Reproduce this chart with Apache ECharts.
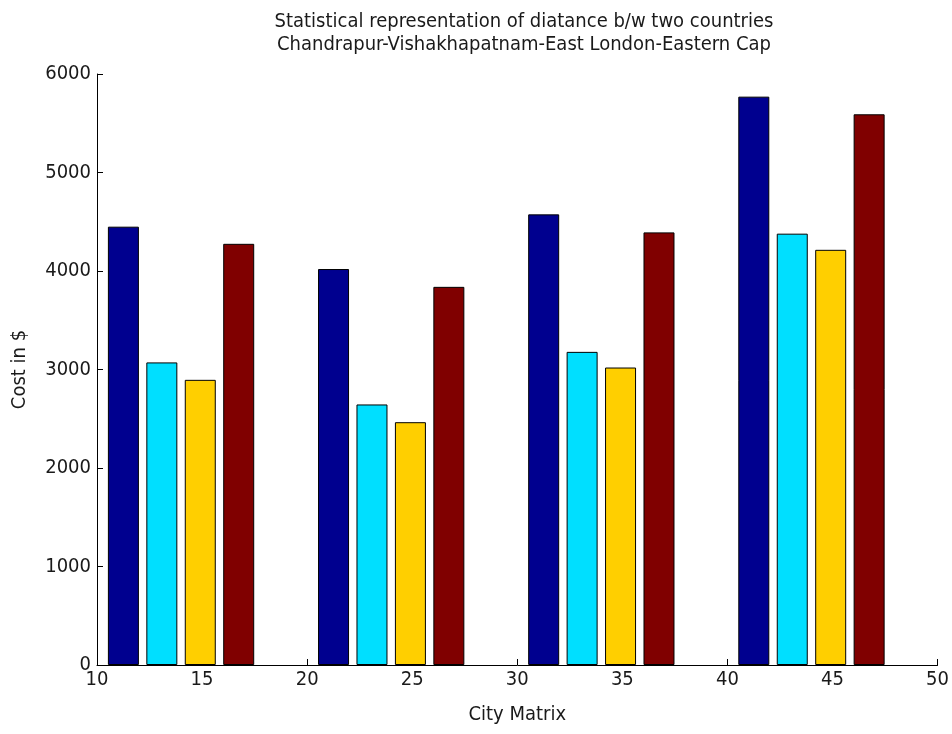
<!DOCTYPE html>
<html>
<head>
<meta charset="utf-8">
<script src="https://cdn.jsdelivr.net/npm/echarts@6/dist/echarts.min.js"></script>
<style>
html,body{margin:0;padding:0;background:#fff;}
#chart{width:952px;height:734px;}
</style>
</head>
<body>
<div id="chart"></div>
<script>
// Group positions on the x axis (City Matrix)
const groupX = [14, 24, 34, 44];
// Series values (Cost in $)
const series1 = [4450, 4020, 4575, 5770];
const series2 = [3072, 2645, 3179, 4379];
const series3 = [2895, 2465, 3020, 4215];
const series4 = [4276, 3839, 4392, 5591];
const seriesColors = ['#00008F', '#00DFFF', '#FFCF00', '#800000'];
const xTicks = [10, 15, 20, 25, 30, 35, 40, 45, 50];
const yTicks = [0, 1000, 2000, 3000, 4000, 5000, 6000];

const FONT = '"DejaVu Sans Condensed", "Liberation Sans Narrow", "Liberation Sans", sans-serif';
const TXT = '#1a1a1a';

const allSeries = [series1, series2, series3, series4];
const chart = echarts.init(document.getElementById('chart'), null, {renderer: 'canvas'});
chart.setOption({
  backgroundColor: '#ffffff',
  animation: false,
  title: {
    text: 'Statistical representation of diatance b/w two countries\nChandrapur-Vishakhapatnam-East London-Eastern Cap',
    left: 519,
    textAlign: 'center',
    top: 5,
    textStyle: {fontFamily: FONT, fontSize: 20, fontWeight: 'normal', color: TXT, lineHeight: 23}
  },
  grid: {left: 97, right: 10, top: 74, bottom: 69, containLabel: false},
  xAxis: {
    type: 'value',
    min: xTicks[0], max: xTicks[xTicks.length - 1], interval: 5,
    name: 'City Matrix',
    nameLocation: 'middle',
    nameGap: 40,
    nameTextStyle: {fontFamily: FONT, fontSize: 20, color: TXT},
    axisLine: {show: true, lineStyle: {color: '#000', width: 1}},
    axisTick: {show: true, inside: true, length: 6, lineStyle: {color: '#000'}},
    axisLabel: {fontFamily: FONT, fontSize: 20, color: TXT, margin: 5, formatter: v => String(v)},
    splitLine: {show: false}
  },
  yAxis: {
    type: 'value',
    min: yTicks[0], max: yTicks[yTicks.length - 1], interval: 1000,
    name: 'Cost in $',
    nameLocation: 'middle',
    nameGap: 67,
    nameRotate: 90,
    nameTextStyle: {fontFamily: FONT, fontSize: 20, color: TXT},
    axisLine: {show: true, lineStyle: {color: '#000', width: 1}},
    axisTick: {show: true, inside: true, length: 6, lineStyle: {color: '#000'}},
    axisLabel: {fontFamily: FONT, fontSize: 20, color: TXT, margin: 6, formatter: v => String(v)},
    splitLine: {show: false}
  },
  series: allSeries.map((vals, i) => ({
    type: 'bar',
    data: groupX.map((x, j) => [x, vals[j]]),
    barWidth: 31,
    barGap: '24%',
    itemStyle: {color: seriesColors[i], borderColor: '#000', borderWidth: 1}
  }))
});
</script>
</body>
</html>
